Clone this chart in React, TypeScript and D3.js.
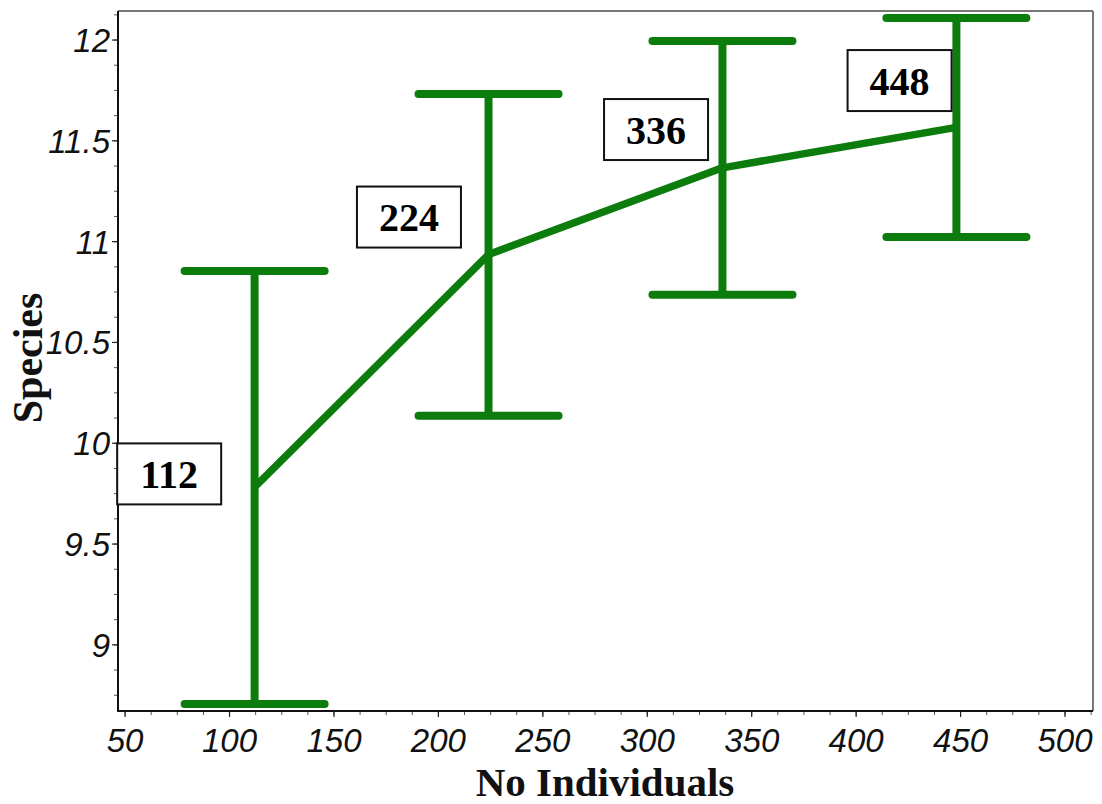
import React from "react";
import * as d3 from "d3";

const individuals = [112, 224, 336, 448];
const meanSpecies = [9.782, 10.936, 11.366, 11.567];
const upperSpecies = [10.855, 11.732, 11.995, 12.109];
const lowerSpecies = [8.707, 10.136, 10.736, 11.023];
const labelText = ["112", "224", "336", "448"];
const labelAnchorX = [71.1, 185.9, 304.2, 420.8];
const labelAnchorY = [9.848, 11.122, 11.556, 11.799];
const xTickValues = [50, 100, 150, 200, 250, 300, 350, 400, 450, 500];
const yTickValues = [9, 9.5, 10, 10.5, 11, 11.5, 12];

const W = 1102;
const H = 804;
const left = 118, right = 1093, top = 11, bottom = 711;
const GREEN = "#0c7c0c";

export default function App() {
  const x = d3.scaleLinear().domain([46.6, 513.4]).range([left, right]);
  const y = d3.scaleLinear().domain([8.672, 12.144]).range([bottom, top]);

  const xMinor = d3.range(50, 513.4, 12.5);
  const yMinor = d3.range(8.75, 12.144, 0.125);

  const line = d3
    .line<number>()
    .x((_, i) => x(individuals[i]))
    .y((d) => y(d));

  const capHalf = 70;

  return (
    <svg
      width={W}
      height={H}
      style={{ position: "absolute", left: 0, top: 0, background: "#fff" }}
    >
      <rect x={0} y={0} width={W} height={H} fill="#fff" />
      <line x1={left} y1={top} x2={right} y2={top} stroke="#777" strokeWidth={2} />
      <line x1={right} y1={top} x2={right} y2={bottom} stroke="#777" strokeWidth={2} />

      {xMinor.map((v, i) => (
        <line key={"xm" + i} x1={x(v)} x2={x(v)} y1={bottom} y2={bottom + 4} stroke="#555" strokeWidth={1} />
      ))}
      {yMinor.map((v, i) => (
        <line key={"ym" + i} x1={left - 4} x2={left} y1={y(v)} y2={y(v)} stroke="#555" strokeWidth={1} />
      ))}

      <line x1={left} y1={top} x2={left} y2={bottom + 1} stroke="#111" strokeWidth={2} />
      <line x1={left - 1} y1={bottom} x2={right} y2={bottom} stroke="#111" strokeWidth={2} />

      {xTickValues.map((v) => (
        <g key={"xt" + v}>
          <line x1={x(v)} x2={x(v)} y1={bottom} y2={bottom + 6} stroke="#222" strokeWidth={1.2} />
          <text
            x={x(v)}
            y={752}
            textAnchor="middle"
            fontFamily="Liberation Sans, Arial, sans-serif"
            fontStyle="italic"
            fontSize={33}
            fill="#111"
          >
            {v}
          </text>
        </g>
      ))}
      {yTickValues.map((v) => (
        <g key={"yt" + v}>
          <line x1={left - 6} x2={left} y1={y(v)} y2={y(v)} stroke="#222" strokeWidth={1.2} />
          <text
            x={110}
            y={y(v) + 12}
            textAnchor="end"
            fontFamily="Liberation Sans, Arial, sans-serif"
            fontStyle="italic"
            fontSize={33}
            fill="#111"
          >
            {v}
          </text>
        </g>
      ))}

      <path d={line(meanSpecies) || ""} fill="none" stroke={GREEN} strokeWidth={7.5} strokeLinejoin="round" />

      {individuals.map((v, i) => (
        <g key={"eb" + i} stroke={GREEN} strokeWidth={8} strokeLinecap="round">
          <line x1={x(v)} x2={x(v)} y1={y(upperSpecies[i])} y2={y(lowerSpecies[i])} strokeLinecap="butt" />
          <line x1={x(v) - capHalf} x2={x(v) + capHalf} y1={y(upperSpecies[i])} y2={y(upperSpecies[i])} />
          <line x1={x(v) - capHalf} x2={x(v) + capHalf} y1={y(lowerSpecies[i])} y2={y(lowerSpecies[i])} />
        </g>
      ))}

      {labelText.map((t, i) => {
        const cx = x(labelAnchorX[i]);
        const cy = y(labelAnchorY[i]);
        return (
          <g key={"lb" + i}>
            <rect x={cx - 52} y={cy - 30.5} width={104} height={61} fill="#fff" stroke="#111" strokeWidth={2} />
            <text
              x={cx}
              y={cy + 14}
              textAnchor="middle"
              fontFamily="Liberation Serif, Times New Roman, serif"
              fontWeight="bold"
              fontSize={40}
              fill="#000"
            >
              {t}
            </text>
          </g>
        );
      })}

      <text
        x={605}
        y={796}
        textAnchor="middle"
        fontFamily="Liberation Serif, Times New Roman, serif"
        fontWeight="bold"
        fontSize={41}
        fill="#111"
      >
        No Individuals
      </text>
      <text
        transform={`translate(42, 358) rotate(-90)`}
        textAnchor="middle"
        fontFamily="Liberation Serif, Times New Roman, serif"
        fontWeight="bold"
        fontSize={42}
        fill="#111"
      >
        Species
      </text>
    </svg>
  );
}
